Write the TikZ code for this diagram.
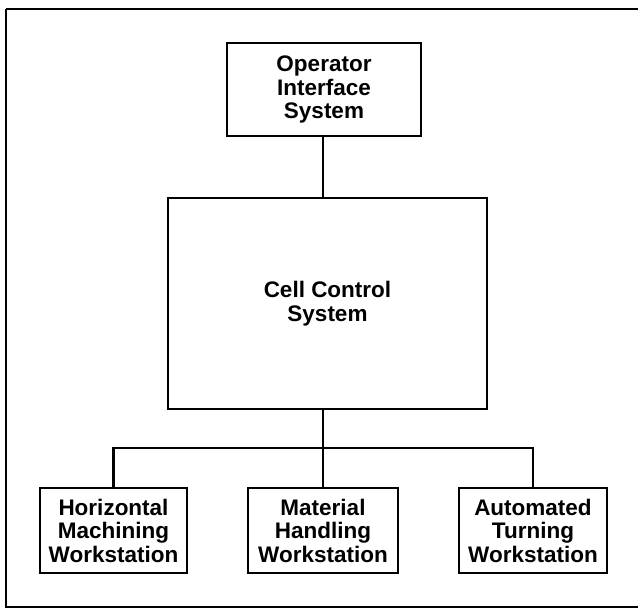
\documentclass[tikz,border=0pt]{standalone}
\usepackage{fontspec}
\setmainfont{Liberation Sans}
\begin{document}
\begin{tikzpicture}[x=1pt,y=-1pt,
  blockbox/.style={draw, line width=2.8pt, inner sep=0pt, align=center,
    font=\bfseries\fontsize{22.5}{23.5}\selectfont},
  link/.style={line width=2.4pt}]
\useasboundingbox (0,0) rectangle (638,609);
% outer frame
\draw[line width=2.8pt] (6,9) -- (645,9) (6,9) -- (6,607) -- (645,607);
% blocks
\node[blockbox, minimum width=194pt, minimum height=93pt] (ois) at (324,89.5) {Operator\\Interface\\System};
\node[blockbox, minimum width=319pt, minimum height=211pt] (ccs) at (327.5,303.5) {Cell Control\\System};
\node[blockbox, minimum width=147pt, minimum height=85pt] (hmw) at (113.5,530.5) {Horizontal\\Machining\\Workstation};
\node[blockbox, minimum width=150pt, minimum height=85pt] (mhw) at (323,530.5) {Material\\Handling\\Workstation};
\node[blockbox, minimum width=148pt, minimum height=85pt] (atw) at (533,530.5) {Automated\\Turning\\Workstation};
% connectors
\coordinate (bus) at (323,448);
\draw[link] (ois.south -| bus) -- (ccs.north -| bus);
\draw[link] (ccs.south -| bus) -- (mhw.north);
\draw[link] (hmw.north) |- (bus) -| (atw.north);
\end{tikzpicture}
\end{document}
